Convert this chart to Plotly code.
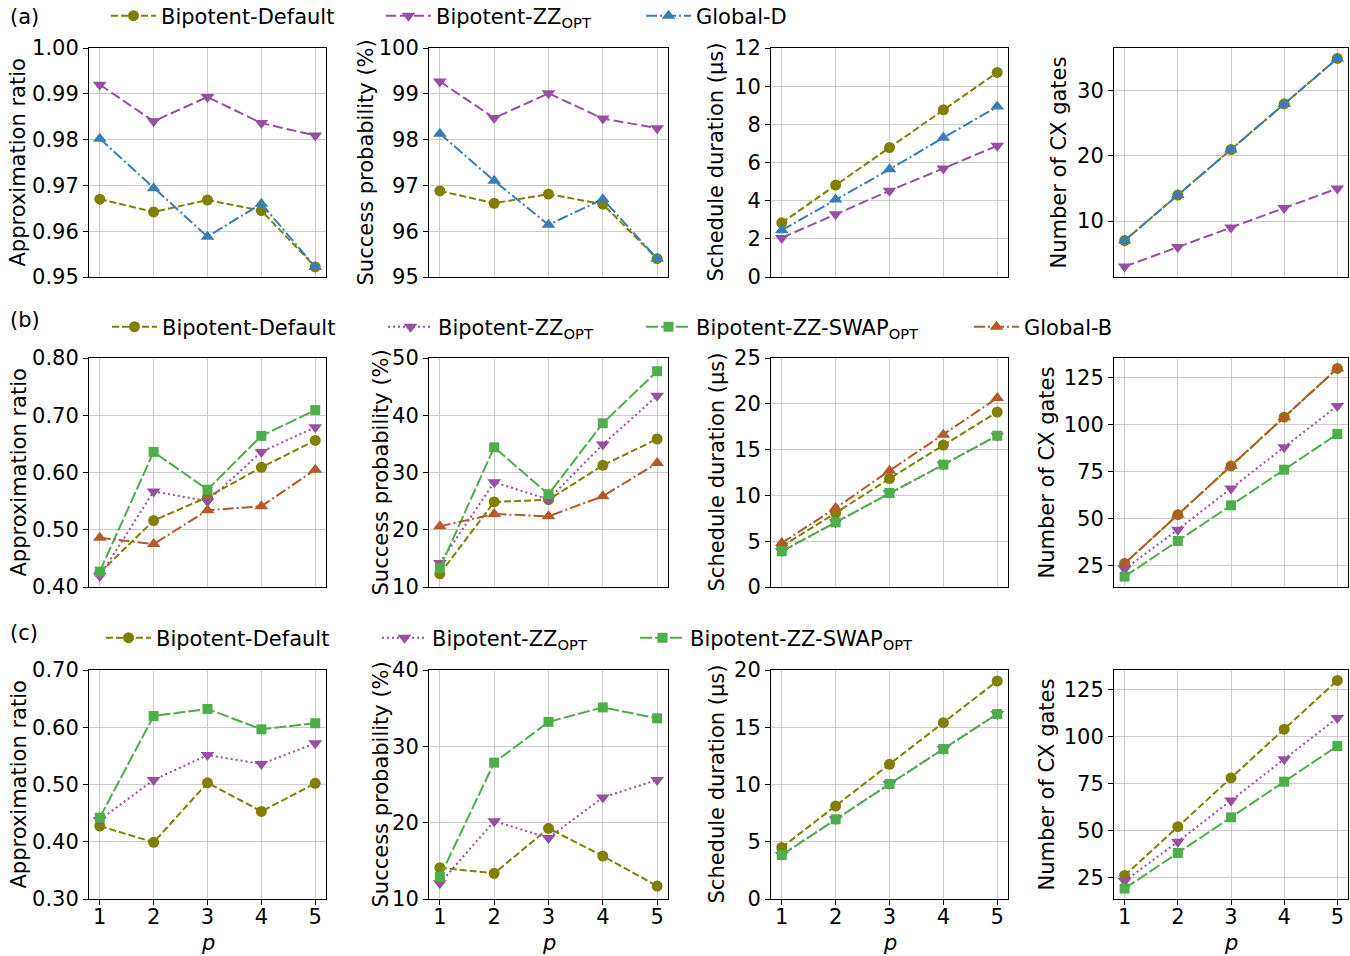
import plotly.graph_objects as go
from plotly.subplots import make_subplots

P = [1, 2, 3, 4, 5]

# ---------------- Row (a) ----------------
a_ar_default = [0.9670, 0.9642, 0.9668, 0.9645, 0.9522]
a_ar_zz = [0.9920, 0.9840, 0.9893, 0.9836, 0.9809]
a_ar_global = [0.9802, 0.9694, 0.9588, 0.9660, 0.9522]

a_sp_default = [96.88, 96.61, 96.81, 96.59, 95.40]
a_sp_zz = [99.27, 98.47, 99.01, 98.46, 98.25]
a_sp_global = [98.13, 97.10, 96.14, 96.70, 95.40]

a_sd_default = [2.84, 4.82, 6.78, 8.76, 10.72]
a_sd_zz = [2.05, 3.29, 4.52, 5.69, 6.88]
a_sd_global = [2.45, 4.06, 5.64, 7.30, 8.93]

a_cx_default = [7, 14, 21, 28, 35]
a_cx_zz = [3, 6, 9, 12, 15]
a_cx_global = [7, 14, 21, 28, 35]

# ---------------- Row (b) ----------------
b_ar_default = [0.425, 0.516, 0.557, 0.609, 0.656]
b_ar_zz = [0.419, 0.567, 0.550, 0.636, 0.679]
b_ar_swap = [0.427, 0.636, 0.570, 0.664, 0.709]
b_ar_global = [0.486, 0.475, 0.534, 0.541, 0.605]

b_sp_default = [12.3, 24.85, 25.25, 31.25, 35.85]
b_sp_zz = [14.2, 28.3, 25.3, 34.9, 43.4]
b_sp_swap = [13.3, 34.4, 26.2, 38.6, 47.7]
b_sp_global = [20.6, 22.75, 22.35, 25.85, 31.65]

b_sd_default = [4.44, 8.08, 11.84, 15.5, 19.1]
b_sd_zz = [3.9, 7.06, 10.26, 13.36, 16.52]
b_sd_swap = [3.9, 7.06, 10.26, 13.36, 16.52]
b_sd_global = [4.8, 8.62, 12.7, 16.63, 20.63]

b_cx_default = [26, 52, 78, 104, 130]
b_cx_zz = [23, 44, 66, 88, 110]
b_cx_swap = [19, 38, 57, 76, 95]
b_cx_global = [26, 52, 78, 104, 130]

# ---------------- Row (c) ----------------
c_ar_default = [0.4275, 0.399, 0.503, 0.453, 0.502]
c_ar_zz = [0.438, 0.508, 0.5515, 0.5358, 0.572]
c_ar_swap = [0.442, 0.6197, 0.632, 0.5964, 0.607]

c_sp_default = [14.1, 13.36, 19.26, 15.63, 11.7]
c_sp_zz = [12.05, 20.2, 18.0, 23.3, 25.6]
c_sp_swap = [12.9, 27.86, 33.2, 35.1, 33.67]

c_sd_default = [4.5, 8.12, 11.76, 15.4, 19.04]
c_sd_zz = [3.84, 6.96, 10.04, 13.1, 16.16]
c_sd_swap = [3.84, 6.96, 10.04, 13.1, 16.16]

c_cx_default = [26, 52, 78, 104, 130]
c_cx_zz = [23, 44, 66, 88, 110]
c_cx_swap = [19, 38, 57, 76, 95]

# ---------------- Labels ----------------
y_titles = ["Approximation ratio", "Success probability (%)",
            "Schedule duration (\u00b5s)", "Number of CX gates"]
panel_labels = ["(a)", "(b)", "(c)"]
name_default = "Bipotent-Default"
name_zz = "Bipotent-ZZ<sub>OPT</sub>"
name_swap = "Bipotent-ZZ-SWAP<sub>OPT</sub>"
name_globald = "Global-D"
name_globalb = "Global-B"

# ---------------- Styles ----------------
OLIVE = "#808000"
PURPLE = "#984ea3"
BLUE = "#377eb8"
GREEN = "#4daf4a"
BROWN = "#b5592a"
FONT = "DejaVu Sans"
FS = 21

W, H = 1350, 956
col_px = [(89, 326), (429, 668), (771, 1008), (1114, 1348)]
row_px = [(48, 277), (358, 587), (670, 899)]

fig = make_subplots(rows=3, cols=4)

style = {
    "default": dict(color=OLIVE, dash="7px,3px", symbol="circle", size=11),
    "zz_a": dict(color=PURPLE, dash="10px,4px", symbol="triangle-down", size=12),
    "zz": dict(color=PURPLE, dash="2px,3px", symbol="triangle-down", size=12),
    "swap": dict(color=GREEN, dash="12px,3px", symbol="square", size=10),
    "globald": dict(color=BLUE, dash="11px,3px,2px,3px", symbol="triangle-up", size=12),
    "globalb": dict(color=BROWN, dash="11px,3px,2px,3px", symbol="triangle-up", size=12),
}

rows_data = [
    [  # row a
        ("default", name_default, [a_ar_default, a_sp_default, a_sd_default, a_cx_default]),
        ("zz_a", name_zz, [a_ar_zz, a_sp_zz, a_sd_zz, a_cx_zz]),
        ("globald", name_globald, [a_ar_global, a_sp_global, a_sd_global, a_cx_global]),
    ],
    [  # row b
        ("default", name_default, [b_ar_default, b_sp_default, b_sd_default, b_cx_default]),
        ("zz", name_zz, [b_ar_zz, b_sp_zz, b_sd_zz, b_cx_zz]),
        ("swap", name_swap, [b_ar_swap, b_sp_swap, b_sd_swap, b_cx_swap]),
        ("globalb", name_globalb, [b_ar_global, b_sp_global, b_sd_global, b_cx_global]),
    ],
    [  # row c
        ("default", name_default, [c_ar_default, c_sp_default, c_sd_default, c_cx_default]),
        ("zz", name_zz, [c_ar_zz, c_sp_zz, c_sd_zz, c_cx_zz]),
        ("swap", name_swap, [c_ar_swap, c_sp_swap, c_sd_swap, c_cx_swap]),
    ],
]

# legend text start positions (px) per row
legend_text_x = [[162, 437, 697], [163, 439, 697, 1025], [157, 433, 691]]
legend_y_px = [16, 327, 638]

legend_layouts = {}
lcount = 0
for r, series in enumerate(rows_data):
    for s, (key, name, vals) in enumerate(series):
        lcount += 1
        lname = "legend" if lcount == 1 else "legend%d" % lcount
        st = style[key]
        for c in range(4):
            fig.add_trace(go.Scatter(
                x=P, y=vals[c], name=name, mode="lines+markers",
                line=dict(color=st["color"], width=2, dash=st["dash"]),
                marker=dict(symbol=st["symbol"], size=st["size"], color=st["color"],
                            line=dict(width=0)),
                showlegend=(c == 0), legend=lname, cliponaxis=False,
            ), row=r + 1, col=c + 1)
        legend_layouts[lname] = dict(
            x=(legend_text_x[r][s] - 56) / W, xanchor="left",
            y=1 - legend_y_px[r] / H, yanchor="middle",
            orientation="h", bgcolor="rgba(0,0,0,0)", borderwidth=0,
            font=dict(family=FONT, size=FS, color="black"),
            itemwidth=45,
        )

yranges = [
    [[0.95, 1.00], [95, 100], [0, 12], [1.4, 36.6]],
    [[0.40, 0.80], [10, 50], [0, 25], [13.45, 135.55]],
    [[0.30, 0.70], [10, 40], [0, 20], [13.45, 135.55]],
]
ydticks = [
    [0.01, 1, 2, 10],
    [0.1, 10, 5, 25],
    [0.1, 10, 5, 25],
]
title_x_px = [[18, 366, 716, 1059], [18, 380, 716, 1046], [18, 380, 716, 1046]]

annotations = []
for r in range(3):
    for c in range(4):
        idx = r * 4 + c + 1
        xa = "xaxis" if idx == 1 else "xaxis%d" % idx
        ya = "yaxis" if idx == 1 else "yaxis%d" % idx
        x0, x1 = col_px[c]
        y0, y1 = row_px[r]
        last = (r == 2)
        fig.layout[xa].update(
            domain=[x0 / W, x1 / W], range=[0.8, 5.2],
            tickvals=P, ticktext=[str(v) for v in P],
            showticklabels=last, ticks="outside" if last else "",
            ticklen=5, tickwidth=1, tickcolor="black", ticklabelstandoff=-6,
            showgrid=True, gridcolor="#cccccc", gridwidth=1,
            showline=True, linecolor="black", linewidth=1, mirror=True,
            zeroline=False, automargin=False,
            tickfont=dict(family=FONT, size=FS, color="black"),
        )
        fmt = ".2f" if c == 0 else ""
        fig.layout[ya].update(
            domain=[1 - y1 / H, 1 - y0 / H], range=yranges[r][c],
            tick0=0, dtick=ydticks[r][c], tickformat=fmt,
            ticks="outside", ticklen=5, tickwidth=1, tickcolor="black",
            showgrid=True, gridcolor="#cccccc", gridwidth=1,
            showline=True, linecolor="black", linewidth=1, mirror=True,
            zeroline=False, automargin=False,
            tickfont=dict(family=FONT, size=FS, color="black"),
        )
        annotations.append(dict(
            text=y_titles[c], textangle=-90, showarrow=False,
            x=title_x_px[r][c] / W, y=1 - (y0 + y1) / 2 / H,
            xref="paper", yref="paper", xanchor="center", yanchor="middle",
            font=dict(family=FONT, size=FS, color="black"),
        ))
        if last:
            annotations.append(dict(
                text="<i>p</i>", showarrow=False,
                x=(x0 + x1) / 2 / W, y=1 - 943 / H,
                xref="paper", yref="paper", xanchor="center", yanchor="middle",
                font=dict(family=FONT, size=FS, color="black"),
            ))

for r, lab in enumerate(panel_labels):
    ypx = [17, 320, 633][r]
    annotations.append(dict(
        text=lab, showarrow=False, x=8 / W, y=1 - ypx / H,
        xref="paper", yref="paper", xanchor="left", yanchor="middle",
        font=dict(family=FONT, size=FS, color="black"),
    ))

fig.update_layout(
    width=W, height=H, margin=dict(l=0, r=0, t=0, b=0, autoexpand=False),
    paper_bgcolor="white", plot_bgcolor="white",
    font=dict(family=FONT, size=FS, color="black"),
    annotations=annotations,
    **legend_layouts,
)

fig.write_html("out.html")
